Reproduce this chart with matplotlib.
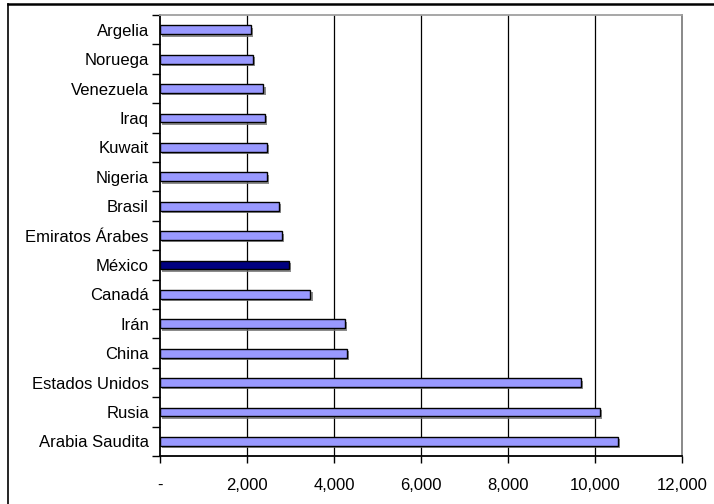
import matplotlib.pyplot as plt
import matplotlib.patheffects as pe
from matplotlib.lines import Line2D
from matplotlib.ticker import FuncFormatter
import numpy as np

plt.rcParams['font.family'] = ['Liberation Sans', 'DejaVu Sans']

paises = ['Arabia Saudita', 'Rusia', 'Estados Unidos', 'China', 'Irán', 'Canadá',
          'México', 'Emiratos Árabes', 'Brasil', 'Nigeria', 'Kuwait', 'Iraq',
          'Venezuela', 'Noruega', 'Argelia']
produccion = [10530, 10110, 9680, 4290, 4260, 3460,
              2970, 2810, 2740, 2470, 2450, 2420,
              2380, 2130, 2090]
resaltado = 'México'

colores = ['#000080' if p == resaltado else '#9999FF' for p in paises]

fig = plt.figure(figsize=(7.14, 5.04), dpi=100)
ax = fig.add_axes([0.2241, 0.0952, 0.7307, 0.8750])

ind = np.arange(len(paises))
sombra = [pe.SimplePatchShadow(offset=(1.5, -1.8), shadow_rgbFace='#707070', alpha=0.8),
          pe.Normal()]
barras = ax.barh(ind, produccion, height=0.3, color=colores,
                 edgecolor='black', linewidth=1.0, zorder=3)
for b in barras:
    b.set_path_effects(sombra)

ax.set_xlim(0, 12000)
ax.set_ylim(-0.5, len(paises) - 0.5)

ax.set_xticks(np.arange(0, 12001, 2000))
ax.xaxis.set_major_formatter(FuncFormatter(lambda v, p: '-' if v == 0 else '{:,.0f}'.format(v)))
ax.set_yticks(ind)
ax.set_yticklabels(paises)
ax.set_yticks(np.arange(-0.5, len(paises), 1), minor=True)

ax.tick_params(axis='y', which='major', length=0, pad=8, labelsize=12)
ax.tick_params(axis='y', which='minor', length=6, width=1, direction='out', color='black')
ax.tick_params(axis='x', length=5, width=1, direction='out', pad=11, labelsize=12)

for v in range(2000, 12000, 2000):
    ax.axvline(v, color='black', linewidth=0.9, zorder=1)

ax.spines['left'].set_color('black')
ax.spines['bottom'].set_color('black')
ax.spines['top'].set_color('#a0a0a0')
ax.spines['right'].set_color('#808080')
for s in ax.spines.values():
    s.set_linewidth(1.3)

# marco exterior: solo se ven el borde superior y el izquierdo
fig.add_artist(Line2D([8 / 714, 1], [1 - 4 / 504, 1 - 4 / 504], transform=fig.transFigure,
                      color='black', linewidth=1.8))
fig.add_artist(Line2D([8 / 714, 8 / 714], [0, 1 - 4 / 504], transform=fig.transFigure,
                      color='black', linewidth=1.2))

plt.savefig('out.png', dpi=100)
